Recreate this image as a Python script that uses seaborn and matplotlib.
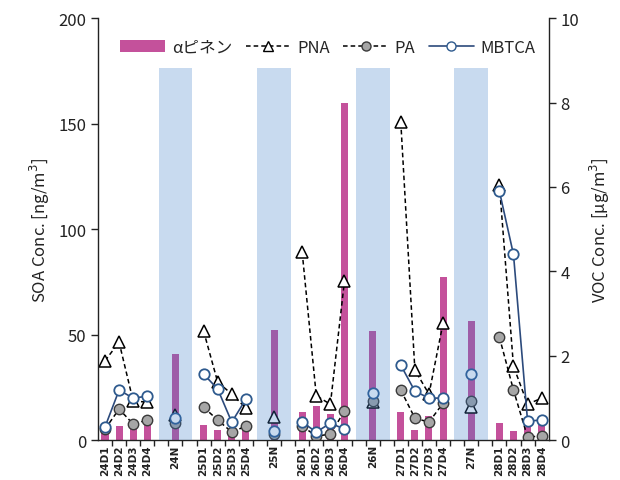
import numpy as np
import pandas as pd
import seaborn as sns
import matplotlib
matplotlib.use("Agg")
import matplotlib.pyplot as plt
from matplotlib.patches import Patch
from matplotlib.lines import Line2D

# ---------------- data ----------------
categories = ["24D1", "24D2", "24D3", "24D4", "", "24N", "",
              "25D1", "25D2", "25D3", "25D4", "", "25N", "",
              "26D1", "26D2", "26D3", "26D4", "", "26N", "",
              "27D1", "27D2", "27D3", "27D4", "", "27N", "",
              "28D1", "28D2", "28D3", "28D4"]
N = None
# alpha-pinene (VOC, ug/m3, right axis)
pinene = [0.20, 0.33, 0.38, 0.42, N, 2.05, N,
          0.35, 0.23, 0.15, 0.28, N, 2.62, N,
          0.66, 0.81, 0.61, 7.98, N, 2.58, N,
          0.66, 0.23, 0.58, 3.86, N, 2.82, N,
          0.40, 0.21, 0.30, 0.42]
# SOA markers (ng/m3, left axis)
pna = [37.6, 46.4, 18.5, 18.0, N, 12.0, N,
       51.7, 27.5, 21.8, 15.2, N, 11.0, N,
       89.0, 21.0, 17.0, 75.4, N, 18.0, N,
       150.7, 33.2, 21.8, 55.5, N, 15.6, N,
       121.0, 35.0, 17.0, 19.9]
pa = [5.2, 14.7, 7.6, 9.5, N, 8.0, N,
      15.6, 9.5, 3.8, 6.6, N, 2.8, N,
      6.6, 1.9, 2.8, 13.7, N, 18.5, N,
      23.7, 10.4, 8.5, 17.5, N, 18.5, N,
      48.8, 23.7, 1.4, 2.0]
mbtca = [6.2, 23.7, 19.9, 20.8, N, 10.5, N,
         31.3, 24.2, 8.5, 19.4, N, 4.3, N,
         8.5, 3.8, 8.0, 5.2, N, 22.3, N,
         35.5, 23.2, 19.9, 19.9, N, 31.3, N,
         118.0, 88.0, 9.0, 9.5]
night_labels = ["24N", "25N", "26N", "27N"]
night_shade_top = 176.5  # ng/m3 scale

# ---------------- frame ----------------
pos = np.arange(len(categories))
group = []
g = 0
for c in categories:
    if c == "":
        g += 1
        group.append(-1)
    else:
        group.append(g)
df = pd.DataFrame({"cat": categories, "pos": pos, "grp": group,
                   "pinene": pd.to_numeric(pd.Series(pinene), errors="coerce"),
                   "PNA": pd.to_numeric(pd.Series(pna), errors="coerce"),
                   "PA": pd.to_numeric(pd.Series(pa), errors="coerce"),
                   "MBTCA": pd.to_numeric(pd.Series(mbtca), errors="coerce")})
dd = df[df["cat"] != ""].copy()

sns.set_theme(style="white")
plt.rcParams["font.family"] = ["Noto Sans CJK JP", "DejaVu Sans"]
plt.rcParams["axes.unicode_minus"] = False

fig = plt.figure(figsize=(6.2, 4.81), dpi=100)
ax = fig.add_axes([0.158, 0.083, 0.727, 0.877])
ax2 = ax.twinx()
ax.set_zorder(ax2.get_zorder() + 1)
ax.patch.set_visible(False)

magenta = "#C4519B"
navy = "#2C4A7C"

# bars on right (VOC) axis
sns.barplot(data=dd, x="pos", y="pinene", native_scale=True, width=0.5,
            color=magenta, saturation=1, ax=ax2, edgecolor="none")

# lines on left (SOA) axis
common = dict(x="pos", units="grp", estimator=None, sort=False, ax=ax,
              legend=False)
sns.lineplot(data=dd, y="PNA", color="black", linestyle=(0, (3, 2)), lw=1.1,
             marker="^", markersize=8, markerfacecolor="white",
             markeredgecolor="black", markeredgewidth=1.1, **common)
sns.lineplot(data=dd, y="PA", color="black", linestyle=(0, (3, 2)), lw=1.1,
             marker="o", markersize=7.5, markerfacecolor="#A6A6A6",
             markeredgecolor="#3A3A3A", markeredgewidth=1.0, **common)
sns.lineplot(data=dd, y="MBTCA", color=navy, lw=1.2,
             marker="o", markersize=7.5, markerfacecolor="white",
             markeredgecolor="#2E5A8E", markeredgewidth=1.3, **common)

# night shading (on top, translucent)
npos = [categories.index(n) for n in night_labels]
ax.bar(npos, [night_shade_top] * len(npos), width=2.4, color="#3C7DC8",
       alpha=0.28, zorder=10, linewidth=0)

# axes limits / ticks
ax.set_xlim(-0.5, len(categories) - 0.5)
ax.set_ylim(0, 200)
ax2.set_ylim(0, 10)
ax.set_yticks([0, 50, 100, 150, 200])
ax2.set_yticks([0, 2, 4, 6, 8, 10])

lab_pos = [p for p, c in zip(pos, categories) if c != ""]
lab_txt = [c for c in categories if c != ""]
ax.set_xticks(lab_pos)
ax.set_xticklabels(lab_txt, rotation=90, fontsize=7.5, color="#222222",
                   family=["DejaVu Sans"], fontweight="bold")
ax.set_xticks(np.arange(-0.5, len(categories) - 0.4, 1.0)[1:-1], minor=True)
ax.tick_params(axis="x", which="major", length=0, pad=3)
ax.tick_params(axis="x", which="minor", length=4, width=1.0, color="#222222",
               direction="out", bottom=True)
ax.tick_params(axis="y", which="major", length=5, width=1.0, color="#222222",
               direction="out", left=True, labelsize=12, labelcolor="#222222")
ax2.tick_params(axis="y", which="major", length=5, width=1.0, color="#222222",
                direction="out", right=True, labelsize=12, labelcolor="#222222")
ax.set_xlabel("")
ax2.set_xlabel("")
ax.set_ylabel("SOA Conc. [ng/m$^3$]", fontsize=12, color="#222222", labelpad=4)
ax2.set_ylabel("VOC Conc. [μg/m$^3$]", fontsize=12, color="#222222", labelpad=6)

for a in (ax, ax2):
    a.spines["top"].set_visible(False)
    for s in ("left", "right", "bottom"):
        a.spines[s].set_color("#222222")
        a.spines[s].set_linewidth(1.0)
ax.spines["right"].set_visible(False)
ax2.spines["left"].set_visible(False)
ax2.spines["bottom"].set_visible(False)

handles = [
    Patch(facecolor=magenta, edgecolor="none"),
    Line2D([], [], color="black", ls=(0, (3, 2)), lw=1.1, marker="^",
           markersize=7, markerfacecolor="white", markeredgecolor="black"),
    Line2D([], [], color="black", ls=(0, (3, 2)), lw=1.1, marker="o",
           markersize=6.5, markerfacecolor="#A6A6A6", markeredgecolor="#3A3A3A"),
    Line2D([], [], color=navy, lw=1.2, marker="o", markersize=6.5,
           markerfacecolor="white", markeredgecolor="#2E5A8E"),
]
labels = ["αピネン", "PNA", "PA", "MBTCA"]
leg = ax.legend(handles, labels, loc="upper center", bbox_to_anchor=(0.51, 0.975),
                ncol=4, frameon=False, fontsize=12, handlelength=2.7,
                handletextpad=0.4, columnspacing=0.8, borderaxespad=0.2)
leg.set_zorder(20)

fig.savefig("out.png", dpi=100)
